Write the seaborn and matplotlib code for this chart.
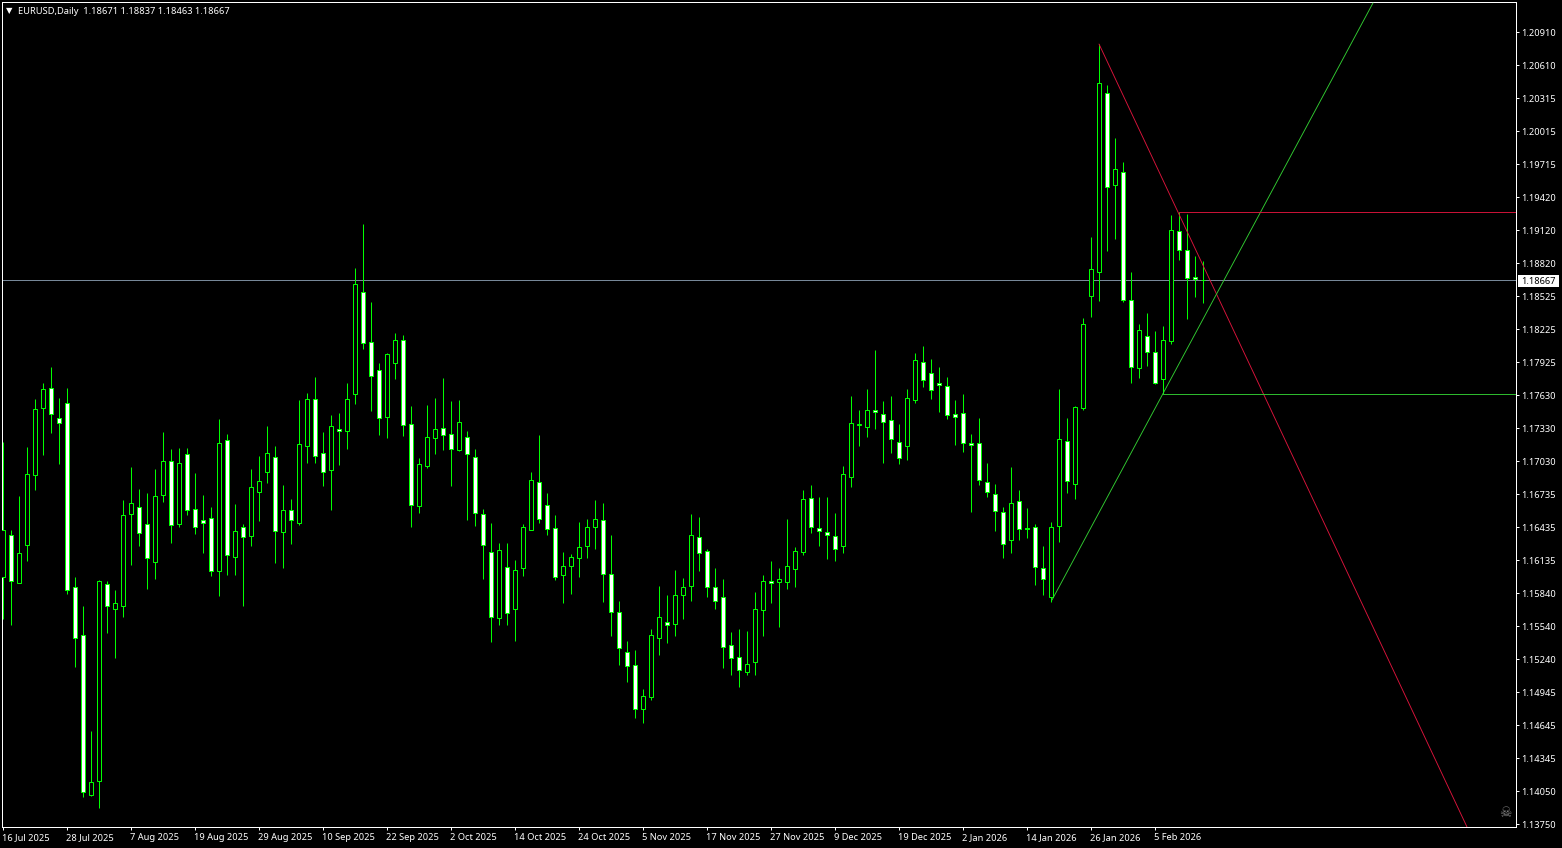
import pandas as pd
import seaborn as sns
import matplotlib
matplotlib.use("Agg")
import matplotlib.pyplot as plt
from matplotlib.patches import Rectangle
from matplotlib.transforms import ScaledTranslation

open_prices = [
    1.15983, 1.16363, 1.15929, 1.16272, 1.16905, 1.17511, 1.17691, 1.17420, 1.17556, 1.15893,
    1.15459, 1.14012, 1.14139, 1.15920, 1.15694, 1.15721, 1.16552, 1.16616, 1.16462, 1.16119,
    1.16724, 1.17032, 1.16462, 1.17095, 1.16598, 1.16498, 1.16516, 1.16037, 1.17221, 1.16164,
    1.16435, 1.16354, 1.16751, 1.16932, 1.17068, 1.16390, 1.16589, 1.16471, 1.17167, 1.17592,
    1.17104, 1.16950, 1.17321, 1.17303, 1.17637, 1.18559, 1.18107, 1.17854, 1.17429, 1.17917,
    1.18125, 1.17366, 1.16625, 1.16986, 1.17239, 1.17330, 1.17276, 1.17131, 1.17249, 1.17068,
    1.16552, 1.16209, 1.15612, 1.16073, 1.15694, 1.16064, 1.16408, 1.16842, 1.16634, 1.16426,
    1.16001, 1.16082, 1.16155, 1.16263, 1.16435, 1.16498, 1.16010, 1.15667, 1.15305, 1.15187,
    1.14790, 1.14898, 1.15431, 1.15576, 1.15558, 1.15820, 1.15902, 1.16345, 1.16218, 1.15893,
    1.15802, 1.15368, 1.15260, 1.15124, 1.15215, 1.15685, 1.15947, 1.15938, 1.15938, 1.16055,
    1.16209, 1.16697, 1.16426, 1.16390, 1.16354, 1.16263, 1.16887, 1.17357, 1.17339, 1.17493,
    1.17456, 1.17402, 1.17203, 1.17167, 1.17583, 1.17927, 1.17827, 1.17737, 1.17710, 1.17456,
    1.17465, 1.17194, 1.17194, 1.16842, 1.16733, 1.16571, 1.16317, 1.16670, 1.16426, 1.16435,
    1.16064, 1.15802, 1.16444, 1.17212, 1.16824, 1.17511, 1.18523, 1.18740, 1.20358, 1.19527,
    1.19644, 1.18487, 1.17872, 1.18162, 1.18017, 1.17773, 1.18116, 1.19111, 1.18939, 1.18695,
    1.18671,
]
high_prices = [
    1.17203, 1.16408, 1.16715, 1.17158, 1.17592, 1.17737, 1.17881, 1.17601, 1.17691, 1.15983,
    1.15721, 1.14591, 1.15956, 1.15947, 1.15865, 1.16679, 1.16977, 1.16778, 1.16742, 1.16959,
    1.17294, 1.17140, 1.17149, 1.17149, 1.16923, 1.16724, 1.16616, 1.17411, 1.17276, 1.16643,
    1.16462, 1.16959, 1.17077, 1.17348, 1.17167, 1.16815, 1.16688, 1.17583, 1.17646, 1.17791,
    1.17294, 1.17447, 1.17465, 1.17737, 1.18776, 1.19174, 1.18469, 1.17917, 1.18008, 1.18189,
    1.18171, 1.17529, 1.17059, 1.17538, 1.17601, 1.17782, 1.17574, 1.17583, 1.17303, 1.17140,
    1.16598, 1.16471, 1.16290, 1.16290, 1.16137, 1.16462, 1.16932, 1.17267, 1.16742, 1.16543,
    1.16209, 1.16191, 1.16480, 1.16507, 1.16679, 1.16652, 1.16363, 1.15766, 1.15404, 1.15323,
    1.14970, 1.15513, 1.15902, 1.15820, 1.16046, 1.15974, 1.16552, 1.16525, 1.16236, 1.16064,
    1.15965, 1.15486, 1.15513, 1.15495, 1.15847, 1.16001, 1.16128, 1.16064, 1.16507, 1.16254,
    1.16769, 1.16815, 1.16706, 1.16706, 1.16561, 1.16986, 1.17619, 1.17493, 1.17682, 1.18035,
    1.17574, 1.17619, 1.17366, 1.17682, 1.18008, 1.18071, 1.17954, 1.17881, 1.17791, 1.17583,
    1.17637, 1.17276, 1.17420, 1.17013, 1.16824, 1.16616, 1.16977, 1.16769, 1.16607, 1.16462,
    1.16263, 1.16480, 1.17682, 1.17420, 1.17529, 1.18324, 1.19057, 1.20801, 1.20431, 1.19951,
    1.19735, 1.18740, 1.18270, 1.18369, 1.18207, 1.18252, 1.19255, 1.19283, 1.19264, 1.18885,
    1.18837,
]
low_prices = [
    1.15603, 1.15549, 1.15929, 1.16128, 1.16769, 1.17086, 1.17285, 1.17004, 1.15829, 1.15169,
    1.13994, 1.14003, 1.13895, 1.15477, 1.15251, 1.15621, 1.16091, 1.16263, 1.15874, 1.15965,
    1.16661, 1.16290, 1.16435, 1.16543, 1.16372, 1.16200, 1.15992, 1.15811, 1.16001, 1.16001,
    1.15721, 1.16263, 1.16489, 1.16833, 1.16109, 1.16064, 1.16281, 1.16453, 1.17013, 1.17013,
    1.16806, 1.16589, 1.16995, 1.17140, 1.17547, 1.18044, 1.17484, 1.17267, 1.17239, 1.17773,
    1.17258, 1.16435, 1.16561, 1.16968, 1.17095, 1.17131, 1.16806, 1.17122, 1.16498, 1.16444,
    1.15965, 1.15395, 1.15549, 1.15549, 1.15404, 1.15992, 1.16408, 1.16471, 1.16363, 1.15956,
    1.15748, 1.15829, 1.15983, 1.16155, 1.16236, 1.15757, 1.15450, 1.15187, 1.15034, 1.14708,
    1.14663, 1.14871, 1.15278, 1.15386, 1.15450, 1.15603, 1.15766, 1.16037, 1.15802, 1.15694,
    1.15160, 1.15094, 1.14989, 1.15094, 1.15097, 1.15450, 1.15748, 1.15531, 1.15874, 1.15893,
    1.16182, 1.16381, 1.16263, 1.16146, 1.16128, 1.16200, 1.16797, 1.17167, 1.17249, 1.17321,
    1.17013, 1.17104, 1.17004, 1.17041, 1.17556, 1.17701, 1.17592, 1.17475, 1.17411, 1.17176,
    1.17113, 1.16571, 1.16815, 1.16706, 1.16399, 1.16155, 1.16200, 1.16317, 1.16335, 1.15911,
    1.15820, 1.15757, 1.16299, 1.16742, 1.16688, 1.17493, 1.18333, 1.18478, 1.18930, 1.19039,
    1.18469, 1.17737, 1.17782, 1.17890, 1.17728, 1.17637, 1.18089, 1.18849, 1.18315, 1.18514,
    1.18463,
]
close_prices = [
    1.16408, 1.15947, 1.16200, 1.16914, 1.17502, 1.17682, 1.17456, 1.17375, 1.15865, 1.15431,
    1.14039, 1.14130, 1.15947, 1.15721, 1.15748, 1.16543, 1.16652, 1.16381, 1.16155, 1.16715,
    1.17032, 1.16453, 1.17013, 1.16589, 1.16435, 1.16471, 1.16037, 1.17194, 1.16182, 1.16399,
    1.16345, 1.16797, 1.16851, 1.17104, 1.16399, 1.16589, 1.16498, 1.17185, 1.17592, 1.17077,
    1.16932, 1.17348, 1.17303, 1.17592, 1.18632, 1.18098, 1.17800, 1.17420, 1.17999, 1.18125,
    1.17357, 1.16634, 1.17004, 1.17249, 1.17321, 1.17267, 1.17140, 1.17384, 1.17095, 1.16561,
    1.16272, 1.15621, 1.16227, 1.15657, 1.16046, 1.16435, 1.16860, 1.16507, 1.16417, 1.15983,
    1.16082, 1.16164, 1.16254, 1.16435, 1.16507, 1.16010, 1.15667, 1.15341, 1.15178, 1.14790,
    1.14907, 1.15459, 1.15621, 1.15549, 1.15820, 1.15893, 1.16363, 1.16200, 1.15893, 1.15766,
    1.15350, 1.15251, 1.15142, 1.15196, 1.15694, 1.15947, 1.15929, 1.15965, 1.16082, 1.16218,
    1.16688, 1.16435, 1.16399, 1.16363, 1.16236, 1.16914, 1.17375, 1.17366, 1.17493, 1.17475,
    1.17384, 1.17231, 1.17059, 1.17601, 1.17945, 1.17764, 1.17673, 1.17719, 1.17447, 1.17429,
    1.17194, 1.17176, 1.16860, 1.16751, 1.16580, 1.16281, 1.16652, 1.16417, 1.16417, 1.16073,
    1.15965, 1.16435, 1.17231, 1.16851, 1.17520, 1.18270, 1.18767, 1.20449, 1.19509, 1.19671,
    1.18487, 1.17881, 1.18216, 1.18017, 1.17737, 1.18125, 1.19120, 1.18939, 1.18686, 1.18677,
    1.18667,
]

date_labels = [
    "16 Jul 2025", "28 Jul 2025", "7 Aug 2025", "19 Aug 2025", "29 Aug 2025",
    "10 Sep 2025", "22 Sep 2025", "2 Oct 2025", "14 Oct 2025", "24 Oct 2025",
    "5 Nov 2025", "17 Nov 2025", "27 Nov 2025", "9 Dec 2025", "19 Dec 2025",
    "2 Jan 2026", "14 Jan 2026", "26 Jan 2026", "5 Feb 2026",
]
bars_per_date = 8

price_ticks = [
    1.20910, 1.20610, 1.20315, 1.20015, 1.19715, 1.19420, 1.19120, 1.18820, 1.18525,
    1.18225, 1.17925, 1.17630, 1.17330, 1.17030, 1.16735, 1.16435, 1.16135, 1.15840,
    1.15540, 1.15240, 1.14945, 1.14645, 1.14345, 1.14050, 1.13750,
]

# drawn objects on the chart, in bar number and price
red_trend_bar = [137, 183]
red_trend_price = [1.20801, 1.13723]
green_trend_bar = [131.125, 171.25]
green_trend_price = [1.15775, 1.21172]
red_level_start = 147
red_level = 1.19283
green_level_start = 145
green_level = 1.17637

bar_limits = (-0.125, 189.125)
price_limits = (1.13723, 1.21181)

GREEN = "#00FF00"
TEXT_SIZE = 6.7

df = pd.DataFrame({"open": open_prices, "high": high_prices, "low": low_prices, "close": close_prices})
df["bar"] = df.index
df["top"] = df[["open", "close"]].max(axis=1)
df["bottom"] = df[["open", "close"]].min(axis=1)
df["body"] = df["top"] - df["bottom"]
rising = df[df["close"] >= df["open"]]
falling = df[df["close"] < df["open"]]

sns.set_theme(style="dark", rc={
    "figure.facecolor": "black", "axes.facecolor": "black", "axes.edgecolor": "white",
    "axes.linewidth": 0.72, "axes.grid": False, "text.color": "white",
    "xtick.color": "white", "ytick.color": "white",
})
plt.rcParams["font.family"] = ["Noto Sans", "DejaVu Sans"]

fig = plt.figure(figsize=(15.62, 8.48), dpi=100)
ax = fig.add_axes([2 / 1562, 21 / 848, 1514 / 1562, 825 / 848])

ax.axhline(close_prices[-1], color="#778899", lw=0.72, zorder=1)
ax.vlines(df["bar"], df["low"], df["high"], color=GREEN, lw=0.72, zorder=2, snap=True)

for part, fill in [(rising, "black"), (falling, "white")]:
    sns.barplot(x=part["bar"].values, y=part["body"].values, bottom=part["bottom"].values,
                native_scale=True, width=0.5, color=fill, saturation=1, errorbar=None,
                edgecolor=GREEN, linewidth=0.72, zorder=3, ax=ax)

line_style = dict(lw=0.65, zorder=4, ax=ax)
sns.lineplot(x=red_trend_bar, y=red_trend_price, color="#DC143C", **line_style)
sns.lineplot(x=green_trend_bar, y=green_trend_price, color="#32CD32", **line_style)
sns.lineplot(x=[red_level_start, bar_limits[1]], y=[red_level, red_level], color="#DC143C", **line_style)
sns.lineplot(x=[green_level_start, bar_limits[1]], y=[green_level, green_level], color="#32CD32", **line_style)

ax.set_xlim(bar_limits)
ax.set_ylim(price_limits)
ax.set_xlabel("")
ax.set_ylabel("")

ax.set_xticks(range(0, len(date_labels) * bars_per_date, bars_per_date))
ax.set_xticklabels(date_labels, ha="left", fontsize=TEXT_SIZE)
ax.yaxis.tick_right()
ax.set_yticks(price_ticks)
ax.set_yticklabels([f"{p:.5f}" for p in price_ticks], fontsize=TEXT_SIZE, va="center")
ax.tick_params(axis="x", length=2.5, width=0.72, pad=2, bottom=True)
ax.tick_params(axis="y", length=2.5, width=0.72, pad=1.2, right=True)

# nudge tick labels by a pixel to sit like the terminal's
for label in ax.get_xticklabels():
    label.set_transform(label.get_transform() + ScaledTranslation(-1 / 100, 0, fig.dpi_scale_trans))
for label in ax.get_yticklabels():
    label.set_transform(label.get_transform() + ScaledTranslation(0, -1.4 / 100, fig.dpi_scale_trans))

# header and current price box
ax.text(0.0049, 0.9895, "\u25bc", transform=ax.transAxes, fontsize=6, color="white",
        ha="center", va="center", family="DejaVu Sans")
header = f"EURUSD,Daily  {open_prices[-1]:.5f} {high_prices[-1]:.5f} {low_prices[-1]:.5f} {close_prices[-1]:.5f}"
ax.text(0.0106, 0.989, header, transform=ax.transAxes, fontsize=6.72, color="white", va="center")
ax.add_patch(Rectangle((1.0013, close_prices[-1] - 0.00058), 0.0271, 0.00108,
                       transform=ax.get_yaxis_transform(), facecolor="white", edgecolor="none",
                       clip_on=False, zorder=5))
ax.text(1.0036, close_prices[-1] - 0.00012, f"{close_prices[-1]:.5f}", transform=ax.get_yaxis_transform(),
        fontsize=TEXT_SIZE, color="black", va="center", clip_on=False, zorder=6)
ax.text(0.9931, 0.0167, "\u2620", transform=ax.transAxes, fontsize=10, color="#808080",
        ha="center", va="center", family="DejaVu Sans")

fig.savefig("out.png", dpi=100, facecolor="black")
